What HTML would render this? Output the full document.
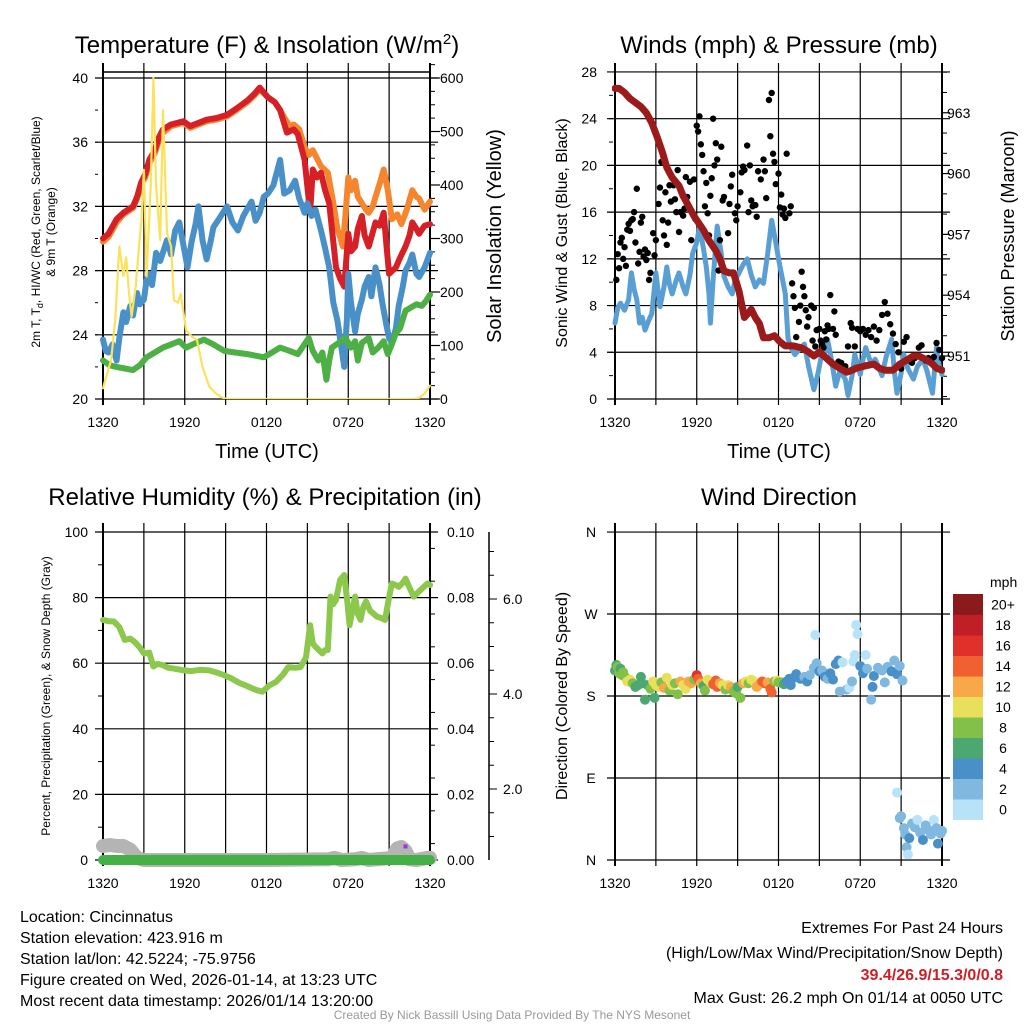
<!DOCTYPE html>
<html><head><meta charset="utf-8">
<style>
html,body{margin:0;padding:0;background:#fff;}
svg{display:block;font-family:"Liberation Sans",sans-serif;}
</style></head>
<body>
<svg id="fig" width="1024" height="1024" viewBox="0 0 1024 1024" xmlns="http://www.w3.org/2000/svg">
<rect width="1024" height="1024" fill="#fff"/>
<g id="p1"></g>
<g id="p2"></g>
<g id="p3"></g>
<g id="p4"></g>

<text x="267" y="53" font-size="24" text-anchor="middle">Temperature (F) &amp; Insolation (W/m<tspan dy="-9" font-size="15">2</tspan><tspan dy="9">)</tspan></text>
<text x="779" y="53" font-size="24" text-anchor="middle">Winds (mph) &amp; Pressure (mb)</text>
<text x="265" y="505" font-size="24" text-anchor="middle">Relative Humidity (%) &amp; Precipitation (in)</text>
<text x="779" y="505" font-size="24" text-anchor="middle">Wind Direction</text>

<text x="267" y="458" font-size="20" text-anchor="middle">Time (UTC)</text>
<text x="779" y="458" font-size="20" text-anchor="middle">Time (UTC)</text>

<text font-size="12" text-anchor="middle" transform="translate(40,232) rotate(-90)">2m T, T<tspan dy="3" font-size="9">d</tspan><tspan dy="-3">, HI/WC (Red, Green, Scarlet/Blue)</tspan></text>
<text font-size="12" text-anchor="middle" transform="translate(55,232) rotate(-90)">&amp; 9m T (Orange)</text>
<text font-size="20" text-anchor="middle" transform="translate(501,236) rotate(-90)">Solar Insolation (Yellow)</text>
<text font-size="16" text-anchor="middle" transform="translate(567,233) rotate(-90)">Sonic Wind &amp; Gust (Blue, Black)</text>
<text font-size="18" text-anchor="middle" transform="translate(1014,236) rotate(-90)">Station Pressure (Maroon)</text>
<text font-size="12" text-anchor="middle" transform="translate(50,696) rotate(-90)">Percent, Precipitation (Green), &amp; Snow Depth (Gray)</text>
<text font-size="16" text-anchor="middle" transform="translate(567,696) rotate(-90)">Direction (Colored By Speed)</text>

<g font-size="16">
<text x="20" y="922">Location: Cincinnatus</text>
<text x="20" y="943">Station elevation: 423.916 m</text>
<text x="20" y="964">Station lat/lon: 42.5224; -75.9756</text>
<text x="20" y="985">Figure created on Wed, 2026-01-14, at 13:23 UTC</text>
<text x="20" y="1006">Most recent data timestamp: 2026/01/14 13:20:00</text>
</g>
<g font-size="16" text-anchor="end">
<text x="1003" y="933">Extremes For Past 24 Hours</text>
<text x="1003" y="958">(High/Low/Max Wind/Precipitation/Snow Depth)</text>
<text x="1003" y="980" fill="#cc2027" font-weight="bold">39.4/26.9/15.3/0/0.8</text>
<text x="1003" y="1003">Max Gust: 26.2 mph On 01/14 at 0050 UTC</text>
</g>
<text x="512" y="1019" font-size="12" fill="#999" text-anchor="middle">Created By Nick Bassill Using Data Provided By The NYS Mesonet</text>
</svg>
<script>
// ---------- DATA ----------
const xTickLabels = ["1320","1920","0120","0720","1320"];
const tempTicks = [20,24,28,32,36,40];
const solarTicks = [0,100,200,300,400,500,600];
const windTicks = [0,4,8,12,16,20,24,28];
const presTicks = [951,954,957,960,963];
const rhTicks = [0,20,40,60,80,100];
const precipTicks = ["0.00","0.02","0.04","0.06","0.08","0.10"];
const snowTicks = ["2.0","4.0","6.0"];
const dirTicks = ["N","E","S","W","N"];
const speedBins = ["0","2","4","6","8","10","12","14","16","18","20+"];

const tempT = [[0,30.0],[0.4,30.3],[1.0,31.2],[1.5,31.6],[2.2,32.0],[2.5,32.6],[2.8,33.5],[3.1,34.0],[3.4,34.9],[3.8,35.5],[4.1,36.3],[4.4,36.8],[5.0,37.1],[5.9,37.3],[6.4,37.0],[7.0,37.2],[7.6,37.4],[8.3,37.5],[9.1,37.7],[9.8,38.1],[10.6,38.6],[11.1,39.0],[11.5,39.4],[12.1,38.8],[12.6,38.5],[13.0,38.0],[13.5,36.6],[14.0,36.8],[14.3,36.5],[14.8,34.9],[15.2,31.6],[15.4,34.3],[15.7,33.8],[16.0,34.1],[16.3,33.0],[16.6,32.2],[16.9,29.8],[17.1,28.2],[17.4,27.5],[17.7,27.0],[18.0,30.3],[18.2,29.2],[18.5,29.5],[18.7,30.6],[19.0,31.4],[19.2,30.2],[19.5,29.5],[19.8,30.4],[20.0,31.0],[20.3,30.8],[20.6,31.6],[20.8,29.6],[21.0,27.8],[21.5,28.2],[21.8,28.8],[22.2,29.5],[22.5,30.2],[22.7,31.0],[23.0,30.6],[23.2,30.3],[23.6,30.8],[24,30.9]];
const temp9m = [[0,29.8],[0.4,30.1],[1.0,31.0],[1.5,31.5],[2.2,31.9],[2.5,32.5],[2.8,33.4],[3.1,33.8],[3.4,34.7],[3.8,35.3],[4.1,36.1],[4.4,36.6],[5.0,37.0],[5.9,37.2],[6.4,36.9],[7.0,37.1],[7.6,37.3],[8.3,37.4],[9.1,37.6],[9.8,38.0],[10.6,38.5],[11.1,38.9],[11.5,39.3],[12.1,38.8],[12.6,38.5],[13.0,38.0],[13.4,37.4],[13.7,37.0],[14.0,37.1],[14.4,36.8],[14.8,35.7],[15.1,35.2],[15.4,35.5],[15.7,35.0],[16.0,34.5],[16.5,34.1],[16.9,32.2],[17.2,30.6],[17.4,30.1],[17.6,29.5],[17.8,31.5],[18.0,33.8],[18.2,33.0],[18.5,33.6],[18.7,32.6],[19.0,32.2],[19.3,31.8],[19.5,31.6],[19.8,32.0],[20.0,32.6],[20.3,33.4],[20.6,34.3],[20.9,33.0],[21.2,31.2],[21.6,31.5],[21.9,30.9],[22.3,31.8],[22.7,33.0],[23.0,32.6],[23.2,32.5],[23.6,31.8],[24,32.3]];
const windChill = [[0,23.7],[0.2,23.0],[0.4,22.9],[0.7,23.4],[1.0,22.4],[1.2,23.8],[1.5,25.4],[1.7,24.8],[2.0,25.8],[2.2,25.2],[2.5,26.6],[2.7,25.9],[3.0,26.2],[3.2,27.4],[3.4,27.8],[3.6,27.1],[3.9,29.1],[4.2,28.6],[4.7,29.9],[5.0,29.0],[5.3,30.5],[5.6,31.0],[5.9,29.6],[6.2,28.2],[6.5,29.8],[6.8,30.9],[7.0,32.0],[7.3,29.9],[7.6,28.7],[7.9,29.8],[8.1,30.7],[8.5,31.2],[9.1,32.0],[9.5,31.0],[9.9,30.5],[10.3,31.4],[10.9,32.3],[11.2,31.1],[11.5,31.6],[11.8,32.6],[12.1,32.8],[12.5,33.3],[13.0,34.9],[13.3,32.8],[13.7,33.0],[14.1,33.6],[14.4,32.5],[14.8,31.6],[15.0,32.2],[15.3,31.4],[15.6,31.8],[16.0,30.5],[16.3,29.4],[16.6,28.2],[16.9,26.0],[17.2,24.9],[17.5,23.2],[17.7,22.0],[17.9,25.0],[18.0,27.8],[18.2,26.0],[18.5,24.2],[18.7,25.3],[19.0,26.2],[19.2,27.0],[19.5,27.6],[19.7,26.4],[20.0,28.2],[20.3,27.1],[20.5,26.0],[20.8,24.6],[21.0,23.8],[21.2,23.5],[21.5,24.4],[21.7,25.8],[22.0,27.0],[22.2,28.0],[22.5,28.5],[22.7,29.0],[23.0,27.8],[23.2,27.6],[23.6,28.2],[24,29.1]];
const dewpoint = [[0,22.4],[0.5,22.1],[1.0,22.0],[1.6,21.9],[2.2,21.8],[2.7,22.1],[3.2,22.6],[3.8,22.9],[4.4,23.2],[5.0,23.4],[5.6,23.6],[6.1,23.2],[6.6,23.4],[7.4,23.7],[8.1,23.4],[8.9,23.0],[9.7,22.9],[10.6,22.8],[11.2,22.7],[11.8,22.6],[12.4,22.9],[13.0,23.2],[13.7,23.0],[14.3,22.8],[14.7,23.3],[15.1,23.8],[15.4,23.0],[15.8,22.4],[16.1,22.9],[16.4,21.2],[16.6,22.4],[16.8,23.2],[17.3,23.5],[17.8,23.8],[18.2,23.2],[18.5,23.6],[18.7,22.4],[19.0,23.5],[19.5,23.8],[19.8,22.9],[20.2,23.2],[20.6,23.6],[20.9,22.8],[21.2,23.4],[21.5,24.1],[21.8,24.4],[22.2,25.5],[22.6,25.7],[23.0,25.9],[23.4,25.8],[23.7,26.1],[24,26.5]];
const solar = [[0,20],[0.1,30],[0.6,73],[0.9,150],[1.2,285],[1.5,230],[1.7,265],[1.9,200],[2.1,154],[2.4,210],[2.6,270],[2.8,330],[3.0,428],[3.2,229],[3.5,397],[3.7,600],[3.9,397],[4.2,297],[4.4,540],[4.7,310],[5.0,285],[5.2,185],[5.5,180],[5.7,196],[6.1,129],[6.5,117],[6.9,110],[7.3,60],[7.8,23],[8.3,10],[8.8,2],[9.2,0],[12,0],[16,0],[20,0],[22.8,0],[23.2,2],[23.6,10],[24,25]];

const pressure = [[0,964.2],[0.3,964.2],[0.7,964.0],[1.1,963.7],[1.5,963.5],[1.9,963.3],[2.3,963.0],[2.7,962.5],[3.1,961.8],[3.5,961.0],[3.8,960.3],[4.2,959.8],[4.7,959.4],[5.0,958.9],[5.4,958.4],[5.8,957.9],[6.2,957.5],[6.5,957.2],[6.9,956.7],[7.4,956.2],[7.7,955.8],[8.0,955.2],[8.4,955.1],[8.7,955.1],[9.1,954.2],[9.5,952.9],[10.0,953.3],[10.3,952.9],[10.6,952.6],[10.9,951.9],[11.3,951.9],[11.7,952.0],[12.1,951.7],[12.5,951.5],[13.1,951.5],[13.7,951.4],[14.2,951.2],[14.6,951.0],[15.0,951.2],[15.5,950.9],[16.0,950.6],[16.5,950.4],[17.0,950.2],[17.4,950.3],[17.7,950.4],[18.3,950.5],[19.0,950.6],[19.4,950.4],[19.8,950.3],[20.4,950.3],[20.9,950.6],[21.4,950.8],[21.9,951.0],[22.3,951.0],[22.9,950.8],[23.3,950.6],[23.6,950.4],[24,950.3]];
const windSpeed = [[0,6.5],[0.2,7.8],[0.4,8.2],[0.7,7.6],[1.0,8.5],[1.2,10.8],[1.4,9.4],[1.6,8.5],[1.8,6.5],[2.0,7.0],[2.2,5.9],[2.5,6.8],[2.7,7.3],[3.0,10.8],[3.3,7.9],[3.6,9.6],[3.8,11.3],[4.0,9.8],[4.2,9.0],[4.5,10.2],[4.7,10.8],[5.0,9.6],[5.2,9.0],[5.5,10.6],[5.7,12.5],[6.0,13.4],[6.2,14.8],[6.5,12.8],[6.7,11.3],[6.9,9.0],[7.0,6.5],[7.2,10.2],[7.5,14.8],[7.8,12.4],[8.0,10.5],[8.3,9.6],[8.6,9.0],[8.8,10.1],[9.1,10.8],[9.4,11.5],[9.7,12.0],[10.0,10.6],[10.3,9.6],[10.6,10.2],[10.9,9.9],[11.2,12.4],[11.5,15.3],[11.8,13.4],[12.0,12.0],[12.3,10.2],[12.5,9.0],[12.7,5.2],[12.9,4.4],[13.2,3.8],[13.5,4.2],[13.9,4.7],[14.2,2.8],[14.6,0.8],[14.9,2.2],[15.1,3.4],[15.4,4.0],[15.6,5.1],[15.9,3.3],[16.2,1.1],[16.5,2.4],[16.9,1.7],[17.1,0.3],[17.4,2.0],[17.6,3.8],[18.0,2.1],[18.2,3.4],[18.4,4.4],[18.8,3.0],[19.1,3.4],[19.4,2.6],[19.6,2.0],[19.9,3.6],[20.3,5.1],[20.5,2.4],[20.7,0.5],[21.0,2.2],[21.2,3.8],[21.5,2.6],[21.9,1.7],[22.2,2.8],[22.6,3.4],[22.9,2.4],[23.3,0.5],[23.6,4.4],[23.8,2.8],[24,2.1]];
const gusts = [[0.1,10.2],[0.2,12.4],[0.3,11.2],[0.4,13.4],[0.5,13.8],[0.6,12],[0.7,13],[0.8,11.4],[0.9,14.5],[1.0,15.0],[1.1,14.4],[1.2,15.3],[1.3,15.4],[1.4,16.0],[1.5,13.4],[1.6,18.0],[1.7,11.6],[1.8,12.6],[1.9,15.1],[2.0,15.6],[2.1,12.2],[2.2,12.8],[2.3,11.9],[2.4,12.5],[2.5,10.2],[2.6,10.8],[2.8,14.2],[2.9,12.3],[3.0,13.6],[3.2,16.7],[3.3,18.1],[3.4,20.3],[3.5,15.3],[3.6,14.0],[3.7,17.7],[3.8,13.2],[3.9,15.1],[4.0,18.3],[4.1,16.9],[4.3,18.3],[4.4,17.1],[4.5,16.0],[4.6,19.6],[4.7,14.3],[4.8,16.0],[5.0,15.7],[5.1,16.3],[5.2,19.0],[5.3,17.3],[5.5,18.6],[5.6,13.6],[5.8,18.8],[5.9,15.4],[6.0,23.4],[6.1,22.9],[6.2,24.2],[6.3,21.8],[6.4,20.9],[6.5,19.5],[6.6,16.5],[6.7,18.5],[6.8,15.9],[6.9,14.0],[7.0,17.4],[7.1,18.9],[7.2,24.0],[7.3,20.0],[7.4,21.9],[7.5,20.5],[7.6,11.0],[7.7,13.6],[7.8,21.6],[7.9,17.0],[8.0,17.3],[8.3,14.2],[8.4,16.7],[8.5,18.2],[8.6,19.2],[8.8,15.9],[8.9,15.3],[9.0,16.5],[9.2,17.7],[9.3,19.4],[9.4,19.9],[9.5,19.6],[9.7,21.7],[9.8,16.0],[9.9,20.0],[10.0,17.0],[10.1,16.5],[10.3,16.6],[10.4,15.6],[10.5,19.5],[10.7,18.8],[10.9,20.5],[11.0,19.5],[11.1,17.2],[11.3,25.6],[11.4,22.5],[11.5,26.2],[11.6,21.0],[11.7,20.3],[11.8,18.4],[12.0,19.3],[12.1,16.4],[12.2,17.5],[12.3,15.8],[12.4,16.3],[12.5,15.5],[12.6,21.0],[12.8,15.9],[12.9,16.5],[13.0,9.9],[13.1,8.8],[13.2,7.8],[13.3,5.3],[13.5,6.6],[13.6,8.0],[13.7,10.9],[13.8,9.6],[13.9,8.8],[14.0,7.6],[14.1,6.2],[14.2,7.0],[14.4,8.0],[14.5,5.0],[14.6,7.8],[14.7,4.5],[14.8,5.9],[15.0,6.0],[15.1,5.0],[15.2,4.7],[15.3,4.4],[15.4,5.8],[15.5,5.1],[15.6,6.3],[15.7,6.0],[15.8,8.9],[16.0,6.0],[16.1,7.5],[16.2,5.5],[16.4,3.2],[16.6,3.1],[16.9,2.8],[17.1,4.5],[17.3,6.5],[17.4,6.1],[17.6,4.5],[17.8,6.0],[18.0,5.8],[18.2,6.0],[18.4,5.5],[18.6,5.9],[18.8,5.3],[19.0,6.2],[19.2,5.0],[19.4,5.9],[19.6,7.2],[19.8,8.3],[20.0,7.3],[20.2,6.4],[20.4,5.6],[20.6,4.7],[20.8,4.0],[21.0,2.6],[21.2,4.9],[21.4,5.3],[21.6,3.3],[21.8,3.1],[22.0,3.5],[22.3,4.4],[22.5,4.6],[22.8,3.3],[23.0,3.5],[23.2,3.3],[23.4,3.6],[23.6,4.8],[23.8,4.2],[24.0,3.5]];

const relHum = [[0,73.2],[0.4,72.8],[0.8,72.7],[1.2,71.0],[1.6,67.1],[2.0,67.5],[2.3,66.6],[2.7,64.8],[3.0,63.0],[3.4,63.2],[3.7,59.0],[4.0,59.8],[4.3,59.5],[4.8,58.6],[5.3,58.3],[5.8,57.9],[6.5,57.6],[7.1,58.0],[7.8,57.8],[8.3,57.2],[8.8,56.5],[9.4,55.4],[10.0,54.0],[10.6,53.0],[11.2,51.9],[11.7,51.3],[12.2,53.2],[12.7,54.3],[13.2,56.5],[13.6,58.8],[14.1,58.6],[14.5,58.8],[14.9,61.8],[15.2,71.6],[15.4,66.0],[15.6,65.0],[16.1,63.0],[16.3,64.0],[16.5,64.0],[16.7,80.3],[16.9,78.0],[17.1,79.3],[17.4,85.4],[17.7,86.9],[17.9,80.0],[18.1,71.6],[18.3,76.0],[18.5,80.3],[18.7,75.0],[18.9,73.2],[19.1,77.0],[19.3,78.8],[19.6,76.0],[20.1,74.2],[20.4,73.8],[20.7,73.2],[20.9,78.0],[21.2,84.3],[21.5,83.8],[21.7,83.3],[22.0,84.5],[22.2,85.8],[22.5,83.0],[22.8,80.3],[23.1,81.5],[23.3,82.3],[23.6,83.5],[23.8,84.3],[24,83.8]];
const precip = [[0,0],[6,0],[12,0],[18,0],[24,0]];
const snowDepth = [[0,0.8],[0.5,0.82],[1.0,0.8],[1.5,0.8],[2.0,0.72],[2.5,0.55],[3.0,0.5],[6,0.5],[12,0.5],[16.5,0.52],[17,0.55],[17.5,0.5],[18.5,0.52],[19,0.55],[19.5,0.5],[21.2,0.55],[21.6,0.75],[21.9,0.78],[22.2,0.7],[22.5,0.52],[23.0,0.5],[23.8,0.55],[24,0.55]];
const purpleMark = [22.2, 0.002];

const dirObs = [[0.0,208,6],[0.1,214,6],[0.2,212,8],[0.3,205,8],[0.4,210,7],[0.5,203,8],[0.6,206,9],[0.8,200,8],[0.9,196,10],[1.1,198,10],[1.3,194,8],[1.5,190,6],[1.7,192,6],[1.9,201,7],[2.0,194,6],[2.2,176,6],[2.4,192,6],[2.6,188,9],[2.8,196,10],[2.9,178,7],[3.0,192,11],[3.2,190,10],[3.4,195,9],[3.6,189,12],[3.8,200,10],[4.0,186,9],[4.2,192,10],[4.4,194,9],[4.6,182,8],[4.8,196,12],[5.0,192,11],[5.2,188,10],[5.4,196,13],[5.6,194,12],[5.8,198,9],[6.0,203,16],[6.1,199,15],[6.3,194,12],[6.5,191,7],[6.6,186,8],[6.8,198,10],[7.0,195,11],[7.2,193,14],[7.4,197,15],[7.5,190,15],[7.7,194,12],[7.9,192,11],[8.1,187,8],[8.3,192,10],[8.5,190,12],[8.7,185,9],[8.9,183,8],[9.0,190,7],[9.2,178,8],[9.4,194,12],[9.6,196,10],[9.8,194,9],[10.0,198,10],[10.2,196,11],[10.4,190,12],[10.6,193,12],[10.8,196,15],[11.0,194,14],[11.2,195,13],[11.4,188,14],[11.5,184,15],[11.7,196,9],[11.9,197,10],[12.0,195,8],[12.2,195,8],[12.4,193,6],[12.6,196,5],[12.8,199,4],[12.9,192,4],[13.1,200,4],[13.3,204,4],[13.6,199,4],[13.9,201,3],[14.1,196,4],[14.3,203,3],[14.6,211,3],[14.7,247,1],[14.8,216,2],[15.0,207,4],[15.2,208,3],[15.4,201,4],[15.6,199,3],[15.8,205,4],[16.0,198,4],[16.2,215,4],[16.4,219,4],[16.5,185,3],[16.7,217,1],[17.0,187,3],[17.2,189,1],[17.4,196,2],[17.5,218,0],[17.6,225,1],[17.7,258,1],[17.8,248,1],[18.0,213,4],[18.2,205,4],[18.4,225,1],[18.5,210,2],[18.8,176,3],[18.9,190,4],[19.0,202,4],[19.3,211,2],[19.6,208,3],[19.8,195,2],[20.0,212,2],[20.3,207,4],[20.5,219,2],[20.7,204,4],[20.9,213,3],[21.1,197,2],[20.7,74,1],[20.9,46,2],[21.0,48,2],[21.2,35,3],[21.3,28,3],[21.4,14,3],[21.5,6,1],[21.6,24,4],[21.8,40,2],[22.0,36,2],[22.2,44,1],[22.4,30,2],[22.6,22,4],[22.8,38,2],[23.0,33,3],[23.2,28,3],[23.4,44,1],[23.6,35,2],[23.7,18,4],[23.9,29,2],[24.0,32,2]];

// ---------- RENDER ----------
const NS="http://www.w3.org/2000/svg";
function mk(parent,tag,attrs,txt){const e=document.createElementNS(NS,tag);for(const k in attrs)e.setAttribute(k,attrs[k]);if(txt!==undefined)e.textContent=txt;parent.appendChild(e);return e;}
const binColors=["#b8e2f8","#80b8e0","#4a90c8","#4aa870","#82c04a","#e8e05a","#f8a848","#f06030","#e0302a","#c01f28","#8b1a1a"];

function panel(g,L,R,T,B){
  const sx=h=>L+h*(R-L)/24;
  for(let i=0;i<=8;i++){const x=sx(i*3);
    const ln=mk(g,'line',{x1:x,y1:T-9,x2:x,y2:B+6,stroke:'#000','stroke-width':(i==0||i==8)?2:1.2});
    }
  xTickLabels.forEach((t,i)=>{const tx=mk(g,'text',{x:sx(i*6),y:B+28,'font-size':14,'text-anchor':'middle'},t);
    });
  return sx;
}
function hline(g,L,R,y,w){const l=mk(g,'line',{x1:L-8,y1:y,x2:R+8,y2:y,stroke:'#000','stroke-width':w||1.2});
  }
function pathOf(arr,sx,sy){return arr.map((p,i)=>(i?'L':'M')+sx(p[0]).toFixed(1)+','+sy(p[1]).toFixed(1)).join(' ');}
function series(g,arr,sx,sy,color,w,name,clip){const p=mk(g,'path',{d:pathOf(arr,sx,sy),fill:'none',stroke:color,'stroke-width':w,'stroke-linejoin':'round','stroke-linecap':'round'});
  if(clip)p.setAttribute('clip-path',clip);
  return p;}
function minorTicks(g,x,y0,y1,step,dir){for(let y=y0;y>=y1-0.1;y-=step){mk(g,'line',{x1:x,y1:y,x2:x+dir*5,y2:y,stroke:'#000','stroke-width':1});}}

const defs=mk(document.getElementById('fig'),'defs',{});
function addClip(id,L,T,R,B){const c=mk(defs,'clipPath',{id:id});mk(c,'rect',{x:L,y:T,width:R-L,height:B-T});}

// Panel 1
(function(){
  const g=document.getElementById('p1');const L=103,R=430,T=72,B=399;
  addClip('c1',L-3,T,R+3,B);
  const sx=panel(g,L,R,T,B);
  const sy=v=>399-(v-20)*16.05;
  const ss=v=>399-v*0.535;
  tempTicks.forEach(t=>{hline(g,L,R,sy(t));const tx=mk(g,'text',{x:88,y:sy(t)+5,'font-size':14,'text-anchor':'end'},t);
    });
  minorTicks(g,L-8,sy(22),sy(40),32.1,0.6);
  mk(g,'line',{x1:L,y1:T,x2:R,y2:T,stroke:'#000','stroke-width':1.5});
  solarTicks.forEach(t=>{mk(g,'line',{x1:R,y1:ss(t),x2:R+10,y2:ss(t),stroke:'#000','stroke-width':1.2});
    const tx=mk(g,'text',{x:440,y:ss(t)+5,'font-size':14},t);});
  for(let v=25;v<=625;v+=25){if(v%100)mk(g,'line',{x1:R,y1:ss(v),x2:R+5,y2:ss(v),stroke:'#000','stroke-width':1});}
  series(g,temp9m,sx,sy,'#f5862e',6,'series-9m-temp','url(#c1)');
  series(g,tempT,sx,sy,'#d62027',6,'series-2m-temp','url(#c1)');
  series(g,windChill,sx,sy,'#4a90c8',6,'series-wind-chill','url(#c1)');
  series(g,dewpoint,sx,sy,'#4db045',6,'series-dewpoint','url(#c1)');
  series(g,solar,sx,ss,'#fbe25a',2.2,'series-solar','url(#c1)');
})();

// Panel 2
(function(){
  const g=document.getElementById('p2');const L=615,R=942,T=72,B=399;
  addClip('c2',L-3,T,R+3,B);
  const sx=panel(g,L,R,T,B);
  const sy=v=>399-v*11.68;
  const sp=p=>356-(p-951)*20.27;
  windTicks.forEach(t=>{hline(g,L,R,sy(t));const tx=mk(g,'text',{x:597,y:sy(t)+5,'font-size':14,'text-anchor':'end'},t);
    });
  minorTicks(g,L-6,sy(2),sy(26),23.36,0.8);
  presTicks.forEach(t=>{mk(g,'line',{x1:R,y1:sp(t),x2:R+8,y2:sp(t),stroke:'#000','stroke-width':1.2});
    const tx=mk(g,'text',{x:947,y:sp(t)+5,'font-size':14},t);});
  for(let p=949;p<=965;p++){if((p-951)%3)mk(g,'line',{x1:R,y1:sp(p),x2:R+5,y2:sp(p),stroke:'#000','stroke-width':1});}
  series(g,windSpeed,sx,sy,'#5a9fd4',5,'series-wind-speed','url(#c2)');
  gusts.forEach(p=>{const c=mk(g,'circle',{cx:sx(p[0]),cy:sy(p[1]),r:3.2,fill:'#000'});
    });
  series(g,pressure,sx,sp,'#9b1b1b',7,'series-pressure','url(#c2)');
})();

// Panel 3
(function(){
  const g=document.getElementById('p3');const L=103,R=430,T=532,B=860;
  addClip('c3',L-12,T,R+12,B+10);
  const sx=panel(g,L,R,T,B);
  const sy=v=>860-v*3.28;
  const sn=v=>884-v*47.5;
  rhTicks.forEach((t,i)=>{hline(g,L,R,sy(t));const tx=mk(g,'text',{x:88,y:sy(t)+5,'font-size':14,'text-anchor':'end'},t);
    
    const t2=mk(g,'text',{x:447,y:sy(t)+5,'font-size':14},precipTicks[i]);
    });
  for(let v=10;v<100;v+=20){mk(g,'line',{x1:L,y1:sy(v),x2:L-5,y2:sy(v),stroke:'#000'});}
  for(let v=5;v<100;v+=10){mk(g,'line',{x1:R,y1:sy(v),x2:R+5,y2:sy(v),stroke:'#000'});}
  const ax=mk(g,'line',{x1:489,y1:T,x2:489,y2:B,stroke:'#000','stroke-width':1.5});
  
  snowTicks.forEach((t,i)=>{const y=sn((i+1)*2);mk(g,'line',{x1:489,y1:y,x2:497,y2:y,stroke:'#000'});
    const tx=mk(g,'text',{x:503,y:y+5,'font-size':14},t);});
  for(let v=0.5;v<7.5;v+=0.5){if(v%2&&sn(v)<=B&&sn(v)>=T)mk(g,'line',{x1:489,y1:sn(v),x2:494,y2:sn(v),stroke:'#000'});}
  series(g,snowDepth,sx,v=>Math.min(sn(v),860),'#b4b4b4',14,'series-snow-depth','url(#c3)');
  series(g,precip,sx,v=>sy(v*1000),'#45b045',10,'series-precipitation','url(#c3)');
  const pm=mk(g,'rect',{x:sx(purpleMark[0])-2,y:sy(purpleMark[1]*1000)-9,width:4,height:4,fill:'#a030e0'});
  
  series(g,relHum,sx,sy,'#8cc84b',6,'series-relative-humidity','url(#c3)');
})();

// Panel 4
(function(){
  const g=document.getElementById('p4');const L=615,R=942,T=532,B=860;
  const sx=panel(g,L,R,T,B);
  const sy=d=>860-d*0.911;
  dirTicks.forEach((t,i)=>{hline(g,L,R,sy(i*90));const tx=mk(g,'text',{x:591,y:sy(i*90)+5,'font-size':14,'text-anchor':'middle'},t);
    });
  dirObs.forEach(p=>{const bi=Math.min(10,Math.floor(p[2]/2));
    const c=mk(g,'circle',{cx:sx(p[0]),cy:sy(p[1]),r:5,fill:binColors[bi]});
    });
  const cb=mk(g,'g',{});
  
  const top=594,h=20.5;
  mk(cb,'text',{x:990,y:587,'font-size':14},'mph');
  speedBins.forEach((lab,i)=>{const y=top+(10-i)*h;
    mk(cb,'rect',{x:953,y:y,width:30,height:h+0.5,fill:binColors[i]});
    const tx=mk(cb,'text',{x:1003,y:y+h/2+5,'font-size':14,'text-anchor':'middle'},lab);
    });
})();
</script>
</body></html>
